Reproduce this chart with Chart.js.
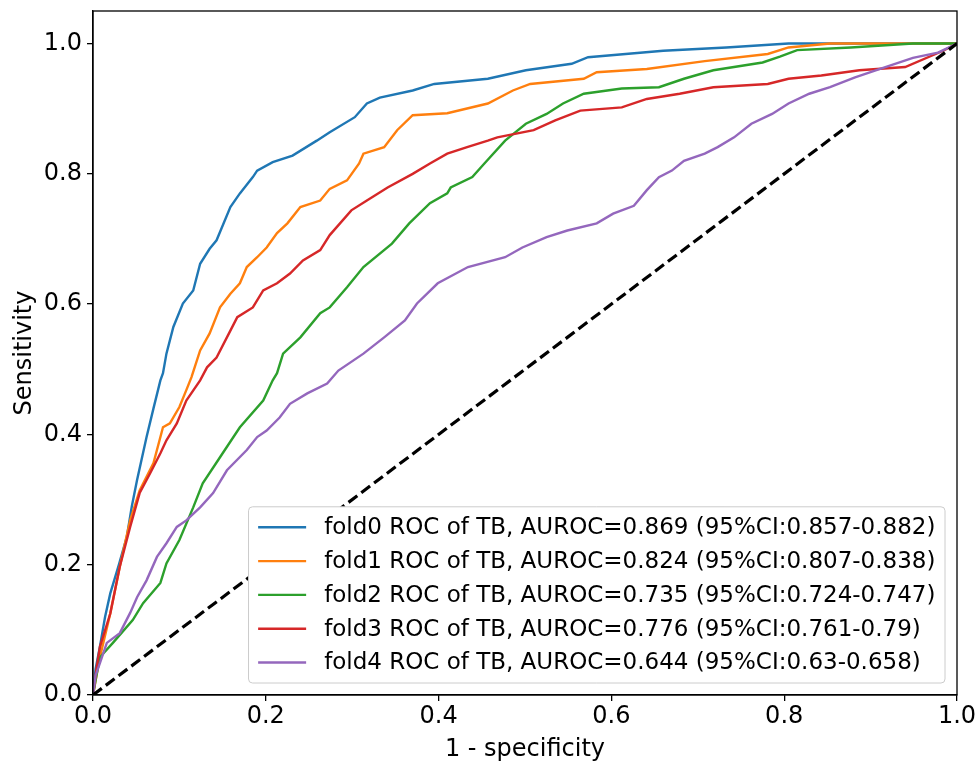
<!DOCTYPE html>
<html>
<head>
<meta charset="utf-8">
<script src="https://cdn.jsdelivr.net/npm/chart.js@4/dist/chart.umd.min.js"></script>
<style>
  html, body { margin: 0; padding: 0; background: #fff; }
  canvas { display: block; }
</style>
</head>
<body>
<canvas id="roc" width="979" height="764"></canvas>
<script>
// ticks
const xTicks = [0, 0.2, 0.4, 0.6, 0.8, 1.0];
const yTicks = [0, 0.2, 0.4, 0.6, 0.8, 1.0];

// legend labels
const foldLabels = [
  'fold0 ROC of TB, AUROC=0.869 (95%CI:0.857-0.882)',
  'fold1 ROC of TB, AUROC=0.824 (95%CI:0.807-0.838)',
  'fold2 ROC of TB, AUROC=0.735 (95%CI:0.724-0.747)',
  'fold3 ROC of TB, AUROC=0.776 (95%CI:0.761-0.79)',
  'fold4 ROC of TB, AUROC=0.644 (95%CI:0.63-0.658)'
];
const foldColors = ['#1f77b4', '#ff7f0e', '#2ca02c', '#d62728', '#9467bd'];

// fold0 (1 - specificity, sensitivity)
const fold0Fpr = [0, 0.003, 0.008, 0.014, 0.02, 0.03, 0.039, 0.045, 0.051, 0.062, 0.07, 0.078, 0.081, 0.085, 0.093, 0.104, 0.116, 0.124, 0.135, 0.143, 0.159, 0.170, 0.185, 0.19, 0.208, 0.231, 0.259, 0.274, 0.303, 0.317, 0.332, 0.370, 0.395, 0.457, 0.501, 0.554, 0.573, 0.66, 0.733, 0.805, 0.9, 1.0];
const fold0Tpr = [0, 0.04, 0.074, 0.12, 0.156, 0.2, 0.242, 0.29, 0.33, 0.396, 0.44, 0.483, 0.494, 0.524, 0.565, 0.601, 0.621, 0.662, 0.685, 0.698, 0.749, 0.770, 0.795, 0.805, 0.818, 0.828, 0.851, 0.864, 0.887, 0.908, 0.917, 0.928, 0.938, 0.946, 0.959, 0.969, 0.979, 0.989, 0.994, 1.0, 1.0, 1.0];

// fold1
const fold1Fpr = [0, 0.004, 0.008, 0.02, 0.031, 0.043, 0.054, 0.07, 0.081, 0.089, 0.1, 0.108, 0.114, 0.124, 0.135, 0.147, 0.159, 0.170, 0.178, 0.19, 0.201, 0.213, 0.225, 0.24, 0.263, 0.274, 0.294, 0.308, 0.313, 0.337, 0.352, 0.37, 0.41, 0.457, 0.486, 0.506, 0.568, 0.583, 0.641, 0.708, 0.781, 0.805, 0.853, 1.0];
const fold1Tpr = [0, 0.03, 0.058, 0.125, 0.197, 0.268, 0.314, 0.356, 0.411, 0.417, 0.442, 0.468, 0.488, 0.529, 0.555, 0.595, 0.616, 0.632, 0.657, 0.672, 0.687, 0.709, 0.724, 0.749, 0.759, 0.777, 0.79, 0.816, 0.831, 0.841, 0.867, 0.89, 0.893, 0.908, 0.928, 0.938, 0.946, 0.956, 0.961, 0.973, 0.984, 0.994, 1.0, 1.0];

// fold2
const fold2Fpr = [0, 0.004, 0.008, 0.023, 0.046, 0.058, 0.078, 0.085, 0.1, 0.116, 0.127, 0.147, 0.17, 0.197, 0.208, 0.213, 0.22, 0.24, 0.263, 0.274, 0.294, 0.313, 0.346, 0.366, 0.39, 0.41, 0.414, 0.439, 0.453, 0.477, 0.501, 0.525, 0.544, 0.568, 0.612, 0.655, 0.684, 0.718, 0.775, 0.795, 0.815, 0.877, 0.949, 1.0];
const fold2Tpr = [0, 0.03, 0.058, 0.08, 0.115, 0.141, 0.172, 0.202, 0.238, 0.288, 0.325, 0.365, 0.411, 0.452, 0.483, 0.494, 0.524, 0.549, 0.586, 0.595, 0.626, 0.657, 0.693, 0.724, 0.755, 0.77, 0.779, 0.795, 0.816, 0.851, 0.877, 0.892, 0.908, 0.923, 0.931, 0.933, 0.946, 0.959, 0.971, 0.98, 0.99, 0.994, 1.0, 1.0];

// fold3
const fold3Fpr = [0, 0.004, 0.008, 0.02, 0.031, 0.043, 0.054, 0.066, 0.078, 0.085, 0.097, 0.108, 0.124, 0.132, 0.143, 0.155, 0.167, 0.185, 0.197, 0.213, 0.228, 0.243, 0.263, 0.274, 0.299, 0.317, 0.341, 0.37, 0.39, 0.41, 0.433, 0.457, 0.468, 0.51, 0.535, 0.564, 0.612, 0.641, 0.679, 0.718, 0.781, 0.805, 0.843, 0.887, 0.94, 0.984, 1.0];
const fold3Tpr = [0, 0.04, 0.074, 0.125, 0.197, 0.258, 0.31, 0.34, 0.371, 0.391, 0.417, 0.452, 0.483, 0.503, 0.518, 0.549, 0.58, 0.595, 0.621, 0.632, 0.647, 0.667, 0.683, 0.706, 0.744, 0.759, 0.779, 0.8, 0.816, 0.831, 0.841, 0.851, 0.856, 0.867, 0.882, 0.897, 0.902, 0.915, 0.923, 0.933, 0.938, 0.946, 0.951, 0.959, 0.964, 0.989, 1.0];

// fold4
const fold4Fpr = [0, 0.003, 0.008, 0.016, 0.031, 0.043, 0.051, 0.062, 0.074, 0.085, 0.097, 0.108, 0.124, 0.139, 0.155, 0.178, 0.19, 0.201, 0.216, 0.228, 0.248, 0.271, 0.284, 0.313, 0.337, 0.361, 0.375, 0.399, 0.434, 0.477, 0.497, 0.525, 0.549, 0.583, 0.602, 0.626, 0.641, 0.655, 0.67, 0.684, 0.708, 0.723, 0.742, 0.762, 0.786, 0.805, 0.829, 0.853, 0.882, 0.911, 0.949, 0.978, 1.0];
const fold4Tpr = [0, 0.03, 0.049, 0.08, 0.095, 0.126, 0.15, 0.176, 0.212, 0.233, 0.258, 0.268, 0.288, 0.31, 0.345, 0.376, 0.396, 0.406, 0.426, 0.447, 0.463, 0.478, 0.498, 0.524, 0.549, 0.575, 0.601, 0.632, 0.657, 0.672, 0.687, 0.703, 0.713, 0.724, 0.739, 0.751, 0.775, 0.795, 0.805, 0.82, 0.831, 0.841, 0.856, 0.877, 0.892, 0.908, 0.923, 0.933, 0.948, 0.961, 0.978, 0.986, 1.0];

// chance line
const chanceFpr = [0, 1];
const chanceTpr = [0, 1];

const FONT = "'DejaVu Sans', sans-serif";
const fprs = [fold0Fpr, fold1Fpr, fold2Fpr, fold3Fpr, fold4Fpr];
const tprs = [fold0Tpr, fold1Tpr, fold2Tpr, fold3Tpr, fold4Tpr];

const zip = (xs, ys) => xs.map((x, i) => ({ x: x, y: ys[i] }));

const datasets = foldLabels.map((label, i) => ({
  label: label,
  data: zip(fprs[i], tprs[i]),
  borderColor: foldColors[i],
  borderWidth: 2.4,
  pointRadius: 0,
  tension: 0,
  fill: false,
  order: 5 - i
}));
datasets.push({
  label: 'chance',
  data: zip(chanceFpr, chanceTpr),
  borderColor: '#000',
  borderWidth: 3.2,
  borderDash: [11, 5],
  pointRadius: 0,
  fill: false,
  order: 0
});

// top/right spines
const framePlugin = {
  id: 'frame',
  afterDatasetsDraw(chart) {
    const a = chart.chartArea;
    const ctx = chart.ctx;
    ctx.save();
    ctx.strokeStyle = '#000';
    ctx.lineWidth = 1.3;
    ctx.strokeRect(a.left, a.top, a.right - a.left, a.bottom - a.top);
    ctx.restore();
  }
};

// matplotlib style legend, lower right
const legendPlugin = {
  id: 'mplLegend',
  afterDraw(chart) {
    const a = chart.chartArea;
    const ctx = chart.ctx;
    const fs = 23;
    const pad = 9.6, handle = 48, gap = 18, rowH = 21.8, spacing = 12;
    ctx.save();
    ctx.font = fs + 'px ' + FONT;
    const textW = Math.max(...foldLabels.map(t => ctx.measureText(t).width));
    const w = pad + handle + gap + textW + pad;
    const h = 2 * pad + foldLabels.length * rowH + (foldLabels.length - 1) * spacing;
    const x0 = a.right - 12 - w;
    const y0 = a.bottom - 12 - h;
    ctx.beginPath();
    ctx.roundRect(x0, y0, w, h, 4);
    ctx.fillStyle = '#ffffff';
    ctx.fill();
    ctx.strokeStyle = '#cccccc';
    ctx.lineWidth = 1;
    ctx.stroke();
    ctx.textBaseline = 'middle';
    ctx.textAlign = 'left';
    foldLabels.forEach((t, i) => {
      const cy = y0 + pad + rowH / 2 + i * (rowH + spacing);
      ctx.beginPath();
      ctx.moveTo(x0 + pad, cy);
      ctx.lineTo(x0 + pad + handle, cy);
      ctx.strokeStyle = foldColors[i];
      ctx.lineWidth = 2.4;
      ctx.stroke();
      ctx.fillStyle = '#000';
      ctx.fillText(t, x0 + pad + handle + gap, cy + 1);
    });
    ctx.restore();
  }
};

new Chart(document.getElementById('roc').getContext('2d'), {
  type: 'line',
  data: { datasets: datasets },
  options: {
    responsive: false,
    animation: false,
    events: [],
    layout: { padding: { left: 0, right: 22, top: 11, bottom: 0 } },
    plugins: { legend: { display: false }, tooltip: { enabled: false } },
    scales: {
      x: {
        type: 'linear',
        min: 0,
        max: 1,
        afterBuildTicks: s => { s.ticks = xTicks.map(v => ({ value: v })); },
        afterFit: s => { s.height = 69; s.paddingLeft = 0; s.paddingRight = 0; },
        grid: { drawOnChartArea: false, drawTicks: true, tickLength: 6, color: '#000', lineWidth: 1.3 },
        border: { display: true, color: '#000', width: 1.3 },
        ticks: { color: '#000', padding: 1, maxRotation: 0, font: { family: FONT, size: 24 }, callback: v => v.toFixed(1) },
        title: { display: true, text: '1 - specificity', color: '#000', padding: { top: 4, bottom: 0 }, font: { family: FONT, size: 24 } }
      },
      y: {
        type: 'linear',
        min: 0,
        max: 1.05,
        afterBuildTicks: s => { s.ticks = yTicks.map(v => ({ value: v })); },
        afterFit: s => { s.width = 93; s.paddingTop = 0; s.paddingBottom = 0; },
        grid: { drawOnChartArea: false, drawTicks: true, tickLength: 6, color: '#000', lineWidth: 1.3 },
        border: { display: true, color: '#000', width: 1.3 },
        ticks: { color: '#000', padding: 5, font: { family: FONT, size: 24 }, callback: v => v.toFixed(1) },
        title: { display: true, text: 'Sensitivity', color: '#000', padding: { top: 10, bottom: 0 }, font: { family: FONT, size: 24 } }
      }
    }
  },
  plugins: [framePlugin, legendPlugin]
});
</script>
</body>
</html>
